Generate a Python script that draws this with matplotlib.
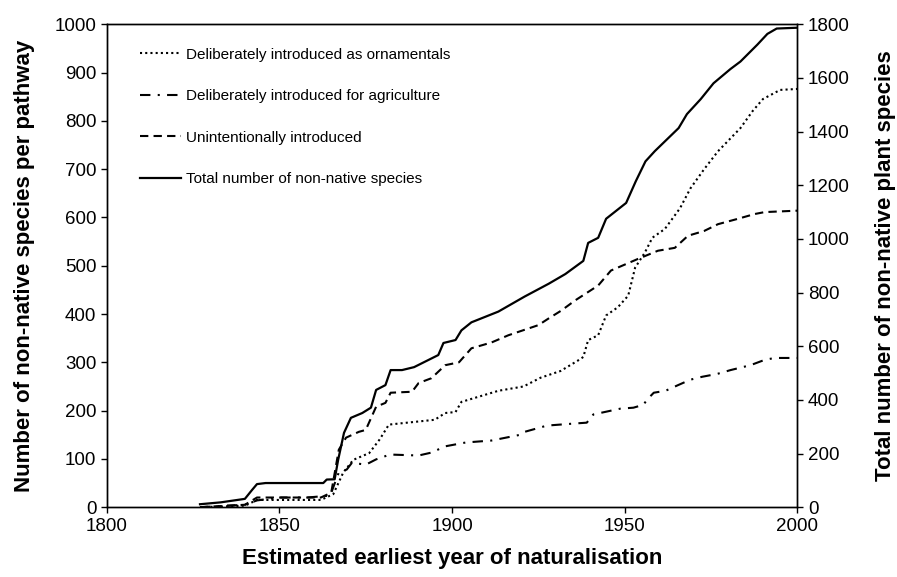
import matplotlib
matplotlib.use("Agg")
import matplotlib.pyplot as plt

plt.rcParams['font.family'] = ['Liberation Sans', 'DejaVu Sans']

# Deliberately introduced as ornamentals (left axis)
orn_years = [1827, 1840, 1843.5, 1862, 1865.6, 1868.5, 1871.4, 1876, 1879, 1881.7, 1895, 1898,
             1901, 1902.7, 1913.4, 1920.7, 1925.6, 1931.4, 1936.3, 1938, 1939.4, 1942.3, 1944.6,
             1948, 1951, 1953, 1955.8, 1958, 1961.6, 1966, 1969, 1973, 1977, 1983.5, 1987,
             1990, 1995, 2000]
orn_vals = [0, 3, 15, 15, 27, 72, 98, 112, 140, 171, 181, 195,
            197, 218, 241, 250, 268, 282, 303, 311, 346, 356, 397,
            414, 438, 496, 527, 558, 576, 619, 660, 700, 737, 785, 820,
            845, 864, 866]

# Deliberately introduced for agriculture (left axis)
agr_years = [1827, 1840, 1843.5, 1850, 1858, 1864.7, 1867.2, 1869.5, 1871, 1875, 1878, 1882,
             1890.3, 1894, 1898, 1904, 1911.4, 1919.8, 1921, 1927.5, 1935, 1939, 1940.9,
             1948.7, 1952.5, 1955.4, 1956.5, 1958.4, 1961.8, 1965.2, 1969, 1972.4, 1976.8,
             1980.7, 1986.4, 1990.5, 1993.4, 2000]
agr_vals = [0, 5, 14, 20, 20, 24, 72, 78, 92, 88, 99, 109,
            107, 113, 126, 134, 138, 150, 156, 169, 173, 175, 192,
            204, 206, 212, 223, 237, 241, 252, 264, 270, 276,
            284, 294, 305, 309, 309]

# Unintentionally introduced (left axis)
unt_years = [1827, 1840, 1843.5, 1862, 1865, 1867.2, 1869.3, 1873, 1875, 1878, 1880.7, 1882.2,
             1888.4, 1890.3, 1894, 1898, 1902, 1905.6, 1911.4, 1916.3, 1925, 1928, 1931.6,
             1935.6, 1942.3, 1946, 1953.8, 1959.6, 1964.5, 1968.3, 1973, 1977, 1982.7,
             1987.6, 1990.5, 2000]
unt_vals = [0, 5, 20, 20, 30, 119, 144, 156, 160, 208, 216, 237,
            239, 257, 267, 294, 300, 329, 341, 356, 377, 391, 407,
            428, 459, 490, 514, 531, 537, 562, 572, 586, 597,
            607, 611, 614]

# Total number of non-native species (right axis)
tot_years = [1827, 1833, 1840, 1842, 1843.5, 1846, 1862.7, 1863.7, 1866, 1867, 1868.7, 1870.7,
             1874, 1876.5, 1878, 1880.7, 1882.2, 1885.5, 1889, 1896, 1897.5, 1901, 1902.7,
             1905.6, 1913.4, 1921, 1928, 1932.8, 1938, 1939.4, 1942.3, 1944.6, 1950.4,
             1953.2, 1956, 1958.7, 1965.6, 1968, 1972, 1975.7, 1980.6, 1983.5, 1988.4,
             1991.3, 1994, 2000]
tot_vals = [11, 18, 31, 63, 86, 90, 90, 103, 104, 176, 277, 333,
            351, 371, 437, 455, 511, 511, 522, 567, 612, 623, 659,
            689, 729, 785, 833, 869, 918, 985, 1004, 1075, 1134,
            1215, 1289, 1327, 1413, 1465, 1521, 1580, 1633, 1661, 1724,
            1764, 1784, 1787]

fig = plt.figure(figsize=(8.97, 5.77), dpi=100)
ax = fig.add_axes([0.119, 0.121, 0.770, 0.837])
ax2 = ax.twinx()

l1, = ax.plot(orn_years, orn_vals, color='black', lw=1.5, linestyle=(0, (1, 1.5)),
              label='Deliberately introduced as ornamentals')
l2, = ax.plot(agr_years, agr_vals, color='black', lw=1.5, linestyle=(0, (5, 3.5, 1, 3.5)),
              label='Deliberately introduced for agriculture')
l3, = ax.plot(unt_years, unt_vals, color='black', lw=1.5, linestyle=(0, (4, 2.5)),
              label='Unintentionally introduced')
l4, = ax2.plot(tot_years, tot_vals, color='black', lw=1.6, linestyle='-',
               label='Total number of non-native species')

ax.set_xlim(1800, 2000)
ax.set_ylim(0, 1000)
ax2.set_ylim(0, 1800)
ax.set_xticks(range(1800, 2001, 50))
ax.set_yticks(range(0, 1001, 100))
ax2.set_yticks(range(0, 1801, 200))

for a in (ax, ax2):
    a.tick_params(direction='out', length=4.5, width=1, labelsize=13.5, colors='black', pad=3)
    for s in a.spines.values():
        s.set_linewidth(1)

ax.set_xlabel('Estimated earliest year of naturalisation', fontsize=16, fontweight='bold', labelpad=10)
ax.set_ylabel('Number of non-native species per pathway', fontsize=16, fontweight='bold', labelpad=14)
ax2.set_ylabel('Total number of non-native plant species', fontsize=16, fontweight='bold', labelpad=18)

ax.legend(handles=[l1, l2, l3, l4], loc='upper left', bbox_to_anchor=(0.028, 0.98),
          frameon=False, fontsize=11, handlelength=2.7, handletextpad=0.3, labelspacing=1.8)

fig.savefig('out.png', dpi=100)
